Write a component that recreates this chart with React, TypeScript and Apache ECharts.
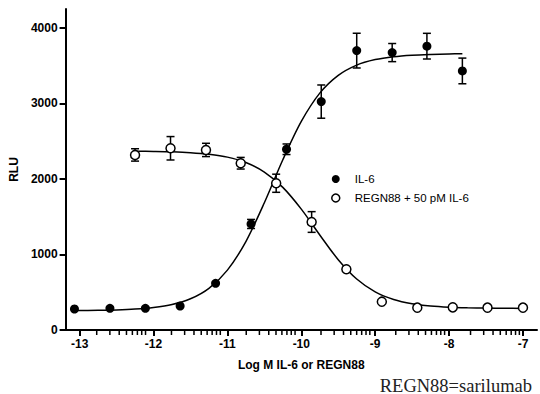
import React, { useEffect, useRef } from "react";
import * as echarts from "echarts";

// IL-6 (filled circles): log M, RLU, error (SEM)
const IL6_X = [-13.07, -12.59, -12.11, -11.64, -11.16, -10.68, -10.2, -9.73, -9.25, -8.77, -8.3, -7.82];
const IL6_Y = [278, 287, 287, 318, 618, 1404, 2393, 3024, 3699, 3673, 3758, 3430];
const IL6_ERR = [0, 0, 0, 0, 0, 60, 70, 220, 230, 120, 170, 170];

// REGN88 + 50 pM IL-6 (open circles)
const REGN_X = [-12.25, -11.77, -11.29, -10.82, -10.34, -9.86, -9.39, -8.91, -8.43, -7.95, -7.48, -7.0];
const REGN_Y = [2318, 2406, 2384, 2208, 1943, 1430, 804, 375, 296, 300, 296, 296];
const REGN_ERR = [82, 155, 88, 77, 120, 137, 0, 0, 0, 0, 0, 0];

// Fitted curves
const IL6_FIT_X = [-13.07, -12.75, -12.5, -12.25, -12.0, -11.75, -11.5, -11.25, -11.0, -10.75, -10.5, -10.25, -10.0, -9.75, -9.5, -9.25, -9.0, -8.75, -8.5, -8.25, -8.0, -7.82];
const IL6_FIT_Y = [257, 261, 266, 277, 298, 337, 413, 552, 793, 1171, 1685, 2254, 2761, 3136, 3371, 3507, 3580, 3619, 3639, 3649, 3655, 3657];
const REGN_FIT_X = [-12.25, -12.0, -11.75, -11.5, -11.25, -11.0, -10.75, -10.5, -10.25, -10.0, -9.75, -9.5, -9.25, -9.0, -8.75, -8.5, -8.25, -8.0, -7.75, -7.5, -7.25, -7.0];
const REGN_FIT_Y = [2367, 2364, 2359, 2348, 2327, 2289, 2217, 2091, 1888, 1600, 1258, 931, 675, 505, 404, 348, 318, 302, 294, 290, 287, 286];

const X_MAJOR = [-13, -12, -11, -10, -9, -8, -7];
const Y_MAJOR = [0, 1000, 2000, 3000, 4000];
// log-decade minor tick positions (2x..9x within each decade)
const X_MINOR = [
  -12.699, -12.523, -12.398, -12.301, -12.222, -12.155, -12.097, -12.046,
  -11.699, -11.523, -11.398, -11.301, -11.222, -11.155, -11.097, -11.046,
  -10.699, -10.523, -10.398, -10.301, -10.222, -10.155, -10.097, -10.046,
  -9.699, -9.523, -9.398, -9.301, -9.222, -9.155, -9.097, -9.046,
  -8.699, -8.523, -8.398, -8.301, -8.222, -8.155, -8.097, -8.046,
  -7.699, -7.523, -7.398, -7.301, -7.222, -7.155, -7.097, -7.046,
];

const NAME_IL6 = "IL-6";
const NAME_REGN = "REGN88 + 50 pM IL-6";

const FONT = "Liberation Sans";
const X_MIN = -13.19;
const X_MAX = -6.81;

export default function App() {
  const ref = useRef<HTMLDivElement>(null);
  useEffect(() => {
    if (!ref.current) return;
    const chart = echarts.init(ref.current, null, { renderer: "svg" });
    const errBar = (params: any, api: any) => {
      const x = api.value(0);
      const y = api.value(1);
      const e = api.value(2);
      if (!e) return { type: "group", children: [] };
      const top = api.coord([x, y + e]);
      const bot = api.coord([x, y - e]);
      const hw = 4;
      const style = { stroke: "#000", lineWidth: 1.5 };
      return {
        type: "group",
        children: [
          { type: "line", shape: { x1: top[0], y1: top[1], x2: bot[0], y2: bot[1] }, style },
          { type: "line", shape: { x1: top[0] - hw, y1: top[1], x2: top[0] + hw, y2: top[1] }, style },
          { type: "line", shape: { x1: bot[0] - hw, y1: bot[1], x2: bot[0] + hw, y2: bot[1] }, style },
        ],
      };
    };
    const tickMark = (params: any, api: any) => {
      const a = api.coord([api.value(0), 1]);
      const b = api.coord([api.value(0), 0]);
      return {
        type: "line",
        shape: { x1: a[0], y1: a[1], x2: b[0], y2: b[1] },
        style: { stroke: "#000", lineWidth: 1.5 },
      };
    };
    const zip3 = (a: number[], b: number[], c: number[]) => a.map((v, i) => [v, b[i], c[i]]);
    const zip2 = (a: number[], b: number[]) => a.map((v, i) => [v, b[i]]);
    chart.setOption({
      animation: false,
      backgroundColor: "#fff",
      grid: [
        { left: 60, right: 3, top: 9, bottom: 64 },
        { left: 60, right: 3, top: 331, height: 4 },
      ],
      xAxis: [
        {
          type: "value",
          gridIndex: 0,
          min: X_MIN,
          max: X_MAX,
          position: "bottom",
          name: "Log M IL-6 or REGN88",
          nameLocation: "middle",
          nameGap: 29,
          nameTextStyle: { fontFamily: FONT, fontWeight: "bold", fontSize: 12, color: "#000" },
          axisLine: { onZero: false, lineStyle: { color: "#000", width: 2 } },
          axisTick: { show: true, customValues: X_MAJOR, length: 6, lineStyle: { color: "#000", width: 2 } },
          axisLabel: {
            customValues: X_MAJOR,
            fontFamily: FONT,
            fontWeight: "bold",
            fontSize: 12,
            color: "#000",
            margin: 8,
          },
          splitLine: { show: false },
        },
        {
          type: "value",
          gridIndex: 1,
          min: X_MIN,
          max: X_MAX,
          axisLine: { show: false },
          axisTick: { show: false },
          axisLabel: { show: false },
          splitLine: { show: false },
        },
      ],
      yAxis: [
        {
          type: "value",
          gridIndex: 0,
          min: 0,
          max: 4250,
          name: "RLU",
          nameLocation: "middle",
          nameGap: 38,
          nameTextStyle: { fontFamily: FONT, fontWeight: "bold", fontSize: 12, color: "#000" },
          axisLine: { show: true, lineStyle: { color: "#000", width: 2 } },
          axisTick: { show: true, customValues: Y_MAJOR, length: 6, lineStyle: { color: "#000", width: 2 } },
          axisLabel: {
            customValues: Y_MAJOR,
            formatter: (v: number) => String(v),
            fontFamily: FONT,
            fontWeight: "bold",
            fontSize: 12,
            color: "#000",
            margin: 8,
          },
          splitLine: { show: false },
        },
        {
          type: "value",
          gridIndex: 1,
          min: 0,
          max: 1,
          axisLine: { show: false },
          axisTick: { show: false },
          axisLabel: { show: false },
          splitLine: { show: false },
        },
      ],
      legend: {
        left: 326,
        top: 168,
        orient: "vertical",
        itemWidth: 28,
        itemHeight: 8,
        itemGap: 7,
        textStyle: { fontFamily: FONT, fontSize: 11.5, color: "#000" },
        data: [
          { name: NAME_IL6, icon: "circle", itemStyle: { color: "#000", borderWidth: 0 } },
          { name: NAME_REGN, icon: "circle", itemStyle: { color: "#fff", borderColor: "#000", borderWidth: 1.5 } },
        ],
      },
      graphic: [
        {
          id: "footer",
          type: "text",
          x: 532,
          y: 395,
          style: {
            text: "REGN88=sarilumab",
            font: '18.5px "Liberation Serif"',
            fill: "#222",
            align: "right",
            verticalAlign: "bottom",
          },
        },
      ],
      series: [
        {
          name: "minor ticks",
          type: "custom",
          xAxisIndex: 1,
          yAxisIndex: 1,
          renderItem: tickMark,
          encode: { x: 0, y: 1 },
          data: X_MINOR.map((v) => [v, 0.5]),
          silent: true,
          z: 6,
        },
        {
          name: "IL-6 fit",
          type: "line",
          data: zip2(IL6_FIT_X, IL6_FIT_Y),
          smooth: 0.3,
          showSymbol: false,
          lineStyle: { color: "#000", width: 1.5 },
          z: 2,
        },
        {
          name: "REGN88 fit",
          type: "line",
          data: zip2(REGN_FIT_X, REGN_FIT_Y),
          smooth: 0.3,
          showSymbol: false,
          lineStyle: { color: "#000", width: 1.5 },
          z: 2,
        },
        {
          name: "IL-6 err",
          type: "custom",
          renderItem: errBar,
          encode: { x: 0, y: 1 },
          data: zip3(IL6_X, IL6_Y, IL6_ERR),
          z: 3,
        },
        {
          name: "REGN err",
          type: "custom",
          renderItem: errBar,
          encode: { x: 0, y: 1 },
          data: zip3(REGN_X, REGN_Y, REGN_ERR),
          z: 3,
        },
        {
          name: NAME_IL6,
          type: "scatter",
          data: zip2(IL6_X, IL6_Y),
          symbol: "circle",
          symbolSize: 9,
          itemStyle: { color: "#000", opacity: 1 },
          z: 4,
        },
        {
          name: NAME_REGN,
          type: "scatter",
          data: zip2(REGN_X, REGN_Y),
          symbol: "circle",
          symbolSize: 9,
          itemStyle: { color: "#fff", borderColor: "#000", borderWidth: 1.5, opacity: 1 },
          z: 4,
        },
      ],
    });
    return () => chart.dispose();
  }, []);
  return (
    <div
      ref={ref}
      style={{ position: "fixed", left: 0, top: 0, width: 540, height: 394, background: "#fff" }}
    />
  );
}
